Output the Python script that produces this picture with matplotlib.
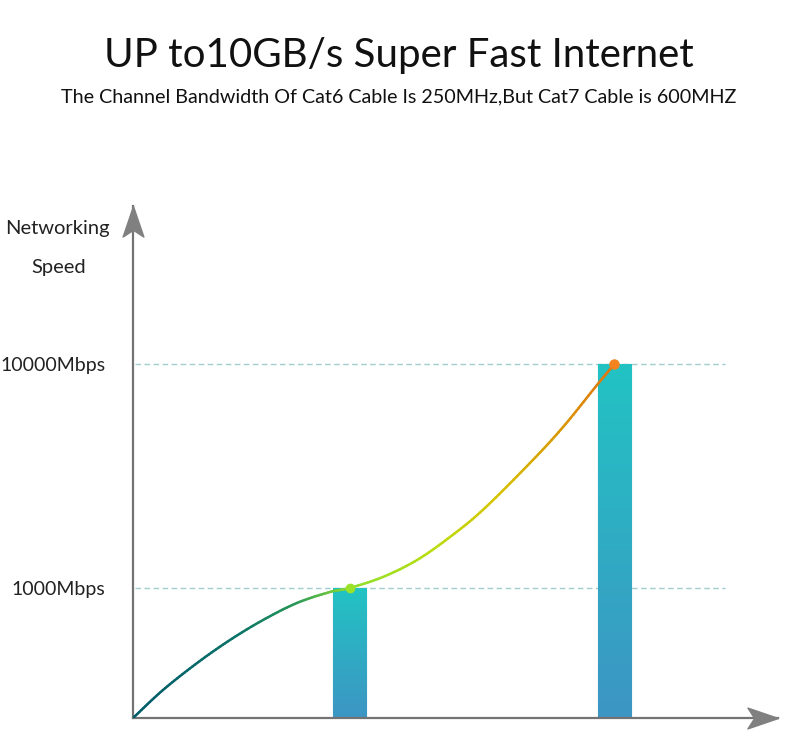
"""
Cat6 vs Cat7 speed chart
"""

import numpy as np
import matplotlib
matplotlib.use("Agg")
import matplotlib.pyplot as plt
from matplotlib.collections import LineCollection
from matplotlib.colors import LinearSegmentedColormap
from matplotlib.path import Path

# data
categories = ["Cat6", "Cat7"]
bar_pos = [1, 2]
speeds = [1000, 10000]

curve_x = [0.183, 0.296, 0.425, 0.549, 0.674, 0.802, 0.926, 1.0,
           1.126, 1.255, 1.379, 1.503, 1.681, 1.806, 1.934, 2.0]
curve_speed = [0, 215, 423, 600, 754, 885, 969, 1000,
               1442, 2125, 3049, 4134, 6022, 7469, 9156, 10000]

ytick_values = [1000, 10000]
ytick_labels = ["1000Mbps", "10000Mbps"]

title = "UP to10GB/s Super Fast Internet"
subtitle = "The Channel Bandwidth Of Cat6 Cable Is 250MHz,But Cat7 Cable is 600MHZ"
ylabel_lines = ["Networking", "Speed"]

FONT = "Lato"
AXIS_GRAY = "#737373"

# speed axis is piecewise linear (not to scale in the original)
_speed_pts = np.array([0, 1000, 10000, 100000])
_pix_pts = np.array([0, 130, 354, 2594])


def fwd(v):
    return np.interp(v, _speed_pts, _pix_pts)


def inv(p):
    return np.interp(p, _pix_pts, _speed_pts)


def catmull_rom(xs, ys, n=14):
    """Smooth drawing path through the given points."""
    pts = np.column_stack([xs, ys])
    pts = np.vstack([2 * pts[0] - pts[1], pts, 2 * pts[-1] - pts[-2]])
    out = []
    for i in range(1, len(pts) - 2):
        p0, p1, p2, p3 = pts[i - 1], pts[i], pts[i + 1], pts[i + 2]
        for t in np.linspace(0, 1, n, endpoint=False):
            t2, t3 = t * t, t * t * t
            out.append(0.5 * ((2 * p1) + (-p0 + p2) * t
                              + (2 * p0 - 5 * p1 + 4 * p2 - p3) * t2
                              + (-p0 + 3 * p1 - 3 * p2 + p3) * t3))
    out.append(pts[-2])
    out = np.array(out)
    return out[:, 0], out[:, 1]


fig = plt.figure(figsize=(7.9, 7.39), dpi=100)
W, H = 790, 739
ax = fig.add_axes([133 / W, 21 / H, (778 - 133) / W, (718 - 206) / H])
ax.set_yscale("function", functions=(fwd, inv))
ax.set_xlim(0.183, 2.617)
ax.set_ylim(0, inv(512))

# dashed reference lines
for v in ytick_values:
    ax.axhline(v, xmin=0.003, xmax=0.918, color="#a3cccc", lw=1.0,
               ls=(0, (4, 2.5)), zorder=1)

# bars with vertical gradient
bars = ax.bar(bar_pos, speeds, width=0.125, color="none",
              edgecolor="#2d8fae", lw=0.8, zorder=2)
grad_cmap = LinearSegmentedColormap.from_list("bar", ["#3d95c3", "#22c3c4"])
to_axes = ax.transData + ax.transAxes.inverted()
for b in bars:
    x0, y0 = b.get_x(), b.get_y()
    x1, y1 = x0 + b.get_width(), y0 + b.get_height()
    (ax0, ay0), (ax1, ay1) = to_axes.transform([(x0, y0), (x1, y1)])
    grad = np.linspace(0, 1, 256).reshape(-1, 1)
    im = ax.imshow(grad, cmap=grad_cmap, origin="lower", aspect="auto",
                   extent=[ax0, ax1, ay0, ay1], transform=ax.transAxes,
                   zorder=2)
    im.set_clip_path(b)
ax.set_xlim(0.183, 2.617)
ax.set_ylim(0, inv(512))

# gradient curve, smoothed in screen-like space
sx, sh = catmull_rom(np.array(curve_x), fwd(np.array(curve_speed, dtype=float)) / 265.0)
sy = inv(sh * 265.0)
pts = np.column_stack([sx, sy])
segs = np.stack([pts[:-1], pts[1:]], axis=1)
mid_x = (sx[:-1] + sx[1:]) / 2
tnorm = (mid_x - curve_x[0]) / (curve_x[-1] - curve_x[0])
line_cmap = LinearSegmentedColormap.from_list("curve", [
    (0.0, "#005b6a"), (0.22, "#0c7468"), (0.34, "#2a9858"),
    (0.45, "#8edf30"), (0.62, "#b8de12"), (0.75, "#d6c600"),
    (0.88, "#d89a00"), (1.0, "#e07412")])
lc = LineCollection(segs, colors=line_cmap(np.clip(tnorm, 0, 1)),
                    linewidths=1.8, capstyle="round", zorder=3)
ax.add_collection(lc)
ax.plot(bar_pos[0], speeds[0], "o", ms=6, color="#9be22a", zorder=4)
ax.plot(curve_x[-1], curve_speed[-1], "o", ms=6.5, color="#f2831e", zorder=4)

# axes
for side in ["top", "right"]:
    ax.spines[side].set_visible(False)
for side in ["left", "bottom"]:
    ax.spines[side].set_color(AXIS_GRAY)
    ax.spines[side].set_linewidth(1.6)
ax.set_xticks([])
ax.set_yticks(ytick_values)
ax.set_yticklabels(ytick_labels, fontsize=14, family=FONT, color="#222222")
ax.tick_params(axis="y", length=0, pad=20)

up_arrow = Path([(0, 0), (-0.34, -1), (0, -0.78), (0.34, -1), (0, 0)],
                [Path.MOVETO, Path.LINETO, Path.LINETO, Path.LINETO, Path.CLOSEPOLY])
right_arrow = Path([(0, 0), (-1, 0.34), (-0.78, 0), (-1, -0.34), (0, 0)],
                   [Path.MOVETO, Path.LINETO, Path.LINETO, Path.LINETO, Path.CLOSEPOLY])
ax.plot(0, 1, marker=up_arrow, ms=44, color="#808080", transform=ax.transAxes,
        clip_on=False, zorder=5)
ax.plot(1, 0, marker=right_arrow, ms=44, color="#808080", transform=ax.transAxes,
        clip_on=False, zorder=5)

# texts
fig.text(399 / W, 1 - 56 / H, title, ha="center", va="center",
         fontsize=29, family=FONT, color="#111111")
fig.text(399 / W, 1 - 97 / H, subtitle, ha="center", va="center",
         fontsize=14.2, family=FONT, color="#111111")
fig.text(57 / W, 1 - 228 / H, ylabel_lines[0], ha="center", va="center",
         fontsize=14.5, family=FONT, color="#222222")
fig.text(59 / W, 1 - 267 / H, ylabel_lines[1], ha="center", va="center",
         fontsize=14.5, family=FONT, color="#222222")

fig.savefig("out.png", dpi=100)
